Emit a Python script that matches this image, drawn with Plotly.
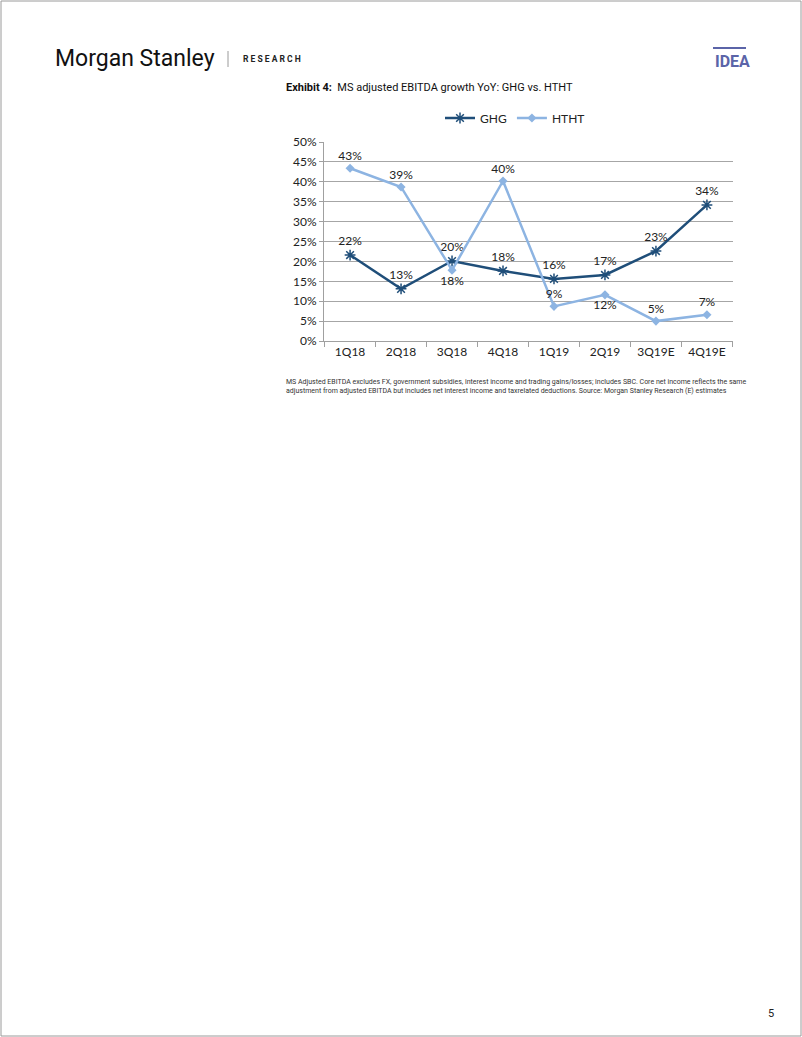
import plotly.graph_objects as go

W, H = 802, 1037
categories = ["1Q18", "2Q18", "3Q18", "4Q18", "1Q19", "2Q19", "3Q19E", "4Q19E"]
ghg = [21.6, 13.1, 20.1, 17.6, 15.6, 16.6, 22.6, 34.2]
htht = [43.4, 38.7, 17.8, 40.2, 8.7, 11.6, 5.0, 6.6]
ghg_pos = ["top center"] * 8
htht_pos = ["top center", "top center", "bottom center", "top center",
            "top center", "bottom center", "top center", "top center"]
y_ticks = [0, 5, 10, 15, 20, 25, 30, 35, 40, 45, 50]

FONT = "Lato"
GHG_C = "#1f4e79"
HTHT_C = "#8db4e2"

def px(x):
    return x / W

def py(y):
    return 1 - y / H

fig = go.Figure()
fig.add_trace(go.Scatter(
    x=categories, y=ghg, name="GHG", mode="lines+markers+text",
    line=dict(color=GHG_C, width=2.5),
    marker=dict(symbol="asterisk-open", size=9, color=GHG_C, line=dict(color=GHG_C, width=1.5)),
    text=ghg, texttemplate="%{y:.0f}%", textposition=ghg_pos,
    textfont=dict(family=FONT, size=12, color="#222222"),
))
fig.add_trace(go.Scatter(
    x=categories, y=htht, name="HTHT", mode="lines+markers+text",
    line=dict(color=HTHT_C, width=2.5),
    marker=dict(symbol="diamond", size=7, color=HTHT_C),
    text=htht, texttemplate="%{y:.0f}%", textposition=htht_pos,
    textfont=dict(family=FONT, size=12, color="#222222"),
))

x0, x1 = 324, 733
y_top, y_bot = 142, 341

fig.update_layout(
    width=W, height=H, autosize=False,
    margin=dict(l=0, r=0, t=0, b=0, pad=0, autoexpand=False),
    paper_bgcolor="white", plot_bgcolor="white",
    font=dict(family=FONT, size=12, color="#222222"),
    showlegend=True,
    legend=dict(orientation="h", x=px(515), xanchor="center", y=py(118), yanchor="middle",
                font=dict(family=FONT, size=12, color="#222222"), bgcolor="rgba(0,0,0,0)",
                itemwidth=30),
    xaxis=dict(domain=[px(x0), px(x1)], type="category", showgrid=False, automargin=False,
               showline=True, linecolor="#a0a0a0", linewidth=1,
               ticks="outside", tickson="boundaries", ticklen=5, tickcolor="#a0a0a0",
               tickfont=dict(family=FONT, size=12, color="#222222"), fixedrange=True),
    yaxis=dict(domain=[py(y_bot), py(y_top)], range=[0, 50], tickvals=y_ticks, automargin=False,
               ticktext=[f"{v}%" for v in y_ticks],
               showgrid=True, gridcolor="#a6a6a6", gridwidth=1.3,
               showline=True, linecolor="#a0a0a0", linewidth=1,
               ticks="outside", ticklen=4, tickcolor="#a0a0a0",
               tickfont=dict(family=FONT, size=12, color="#222222"), zeroline=False),
)

shapes = [
    dict(type="rect", xref="paper", yref="paper", x0=px(1), x1=px(801), y0=py(1036), y1=py(1),
         line=dict(color="#9a9a9a", width=1)),
    dict(type="line", xref="paper", yref="paper", x0=px(228), x1=px(228), y0=py(51), y1=py(67),
         line=dict(color="#9a9a9a", width=1)),
    dict(type="line", xref="paper", yref="paper", x0=px(713), x1=px(746), y0=py(48), y1=py(48),
         line=dict(color="#5b64a8", width=2)),
]
fig.update_layout(shapes=shapes)

ann = [
    dict(text="Morgan Stanley", x=px(53), y=py(58), xanchor="left", yanchor="middle",
         font=dict(family="Roboto", size=23, color="#111111")),
    dict(text="<b>R E S E A R C H</b>", x=px(241), y=py(59), xanchor="left", yanchor="middle",
         font=dict(family="Roboto", size=8.5, color="#222222")),
    dict(text="<b>IDEA</b>", x=px(713), y=py(61), xanchor="left", yanchor="middle",
         font=dict(family="Roboto", size=16, color="#5b64a8")),
    dict(text="<b>Exhibit 4:</b>  MS adjusted EBITDA growth YoY: GHG vs. HTHT", x=px(284), y=py(88),
         xanchor="left", yanchor="middle", font=dict(family="Roboto", size=11, color="#111111")),
    dict(text="MS Adjusted EBITDA excludes FX, government subsidies, interest income and trading gains/losses; includes SBC. Core net income reflects the same<br>"
              "adjustment from adjusted EBITDA but includes net interest income and taxrelated deductions. Source: Morgan Stanley Research (E) estimates",
         x=px(284), y=py(386), xanchor="left", yanchor="middle", align="left",
         font=dict(family="Roboto", size=7, color="#333333")),
    dict(text="5", x=px(771), y=py(1013), xanchor="center", yanchor="middle",
         font=dict(family="Roboto", size=11, color="#222222")),
]
for a in ann:
    a.update(xref="paper", yref="paper", showarrow=False)
fig.update_layout(annotations=ann)

fig.write_html("out.html", config={"displayModeBar": False},
               post_script="document.documentElement.style.margin='0';document.body.style.margin='0';document.body.style.padding='0';document.body.style.overflow='hidden';")
